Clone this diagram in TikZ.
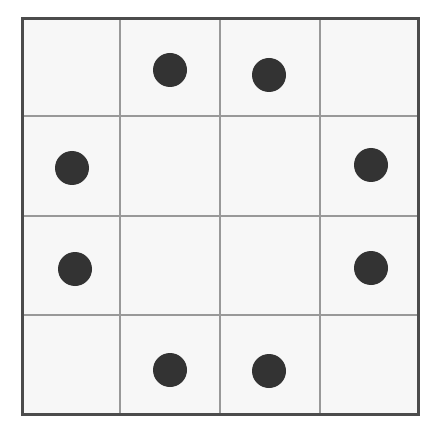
\documentclass[tikz,border=0pt]{standalone}
\begin{document}
\begin{tikzpicture}[x=1pt,y=-1pt,
  outer/.style={draw=black!70,line width=3pt},
  inner/.style={draw=black!40,line width=2pt},
  dot/.style={circle,fill=black!80,minimum size=34pt,inner sep=0pt}]
\useasboundingbox (0,0) rectangle (421,430);
\fill[white] (0,0) rectangle (421,430);
\fill[black!3] (22,19) rectangle (418,414);
\foreach \x in {120,220,320} \draw[inner] (\x,19) -- (\x,414);
\foreach \y in {116,216,315} \draw[inner] (22,\y) -- (418,\y);
\draw[outer] (22,19) rectangle (418,414);
\node[dot] (d1) at (170,70) {};
\node[dot] (d2) at (269,75) {};
\node[dot] (d3) at (72,168) {};
\node[dot] (d4) at (371,165) {};
\node[dot] (d5) at (75,269) {};
\node[dot] (d6) at (371,268) {};
\node[dot] (d7) at (170,370) {};
\node[dot] (d8) at (269,371) {};
\end{tikzpicture}
\end{document}
